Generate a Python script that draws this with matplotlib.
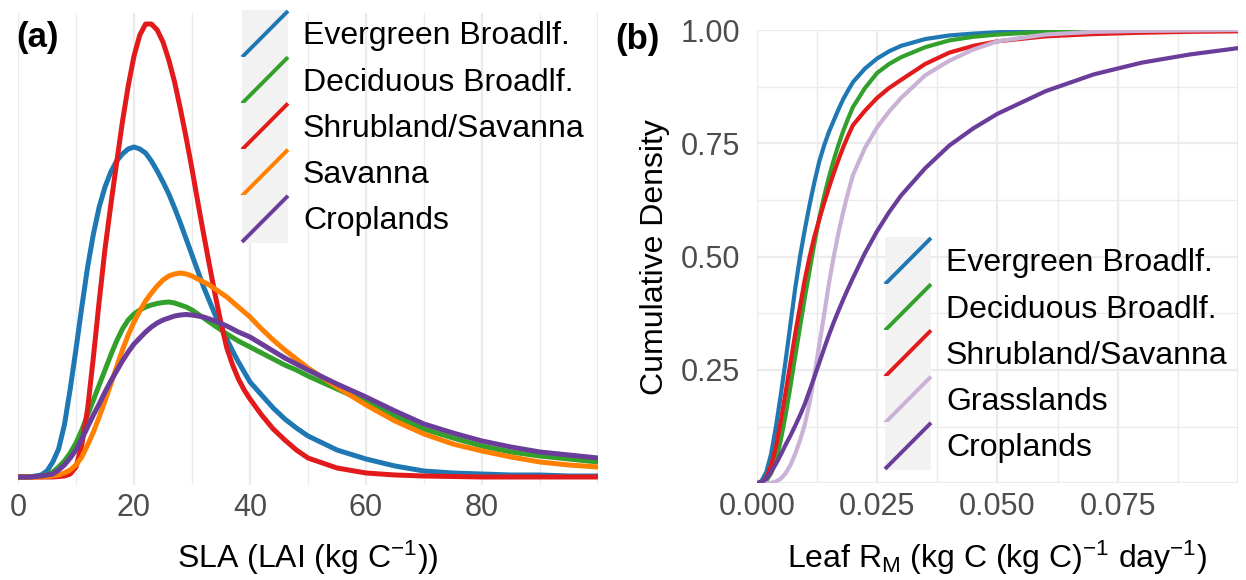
import matplotlib
matplotlib.use("Agg")
import matplotlib.pyplot as plt
from matplotlib.lines import Line2D
from matplotlib.patches import Rectangle
from matplotlib.legend_handler import HandlerBase
from matplotlib.ticker import MultipleLocator

plt.rcParams['font.family'] = ['Liberation Sans', 'DejaVu Sans']
plt.rcParams['mathtext.fontset'] = 'custom'
plt.rcParams['mathtext.rm'] = 'Liberation Sans'
plt.rcParams['mathtext.it'] = 'Liberation Sans:italic'

# ---- panel (a): SLA prior densities (relative height, no y scale shown)
sla_x = [0, 2, 4,
         5, 6, 7, 8, 9, 10, 11, 12, 13, 14, 15, 16, 17, 18, 19, 20, 21, 22,
         23, 24, 25, 26, 27, 28, 29, 30, 31, 32, 33, 34, 35, 36, 37, 38, 39, 40,
         42, 44, 46, 48, 50, 55, 60, 65, 70, 75, 80, 85, 90, 95, 100]
sla_evergreen = [0, 0, 2,
                 6, 15, 28, 52, 88, 128, 170, 210, 243, 270, 290, 305, 316, 323, 328, 330, 328, 324,
                 316, 306, 295, 283, 269, 254, 238, 222, 206, 190, 176, 162, 150, 138, 126, 115, 105, 95,
                 82, 69, 58, 49, 41, 27, 18, 11, 6, 4, 3, 2, 2, 1, 1]
sla_deciduous = [0, 0, 1,
                 2.5, 5, 10, 16, 24, 34, 47, 62, 77, 92, 107, 122, 136, 148, 157, 163, 167, 170,
                 172, 173.5, 174.5, 175, 174, 172, 170, 167, 163, 159, 155, 151, 147, 143, 139.5, 136, 133, 130,
                 124, 118, 112, 107, 101, 88, 75, 61, 48, 39, 31, 25, 21, 18, 15]
sla_shrub = [0, 0, 0,
             0, 0, 0.5, 1, 3, 10, 32, 68, 120, 176, 228, 272, 314, 355, 391, 421, 442, 453,
             453, 447, 435, 417, 395, 368, 339, 308, 275, 243, 212, 182, 154, 129, 112, 98, 87, 78,
             62, 48, 37, 27, 19, 9, 4, 2, 1, 0.5, 0, 0, 0, 0, 0]
sla_savanna = [0, 0, 0,
               0.5, 1, 2, 4, 7, 12, 20, 32, 45, 60, 76, 93, 110, 127, 142, 155, 166, 176,
               184, 191, 197, 201, 203, 204, 203, 201, 198, 195, 192, 188, 184, 180, 175, 170, 165, 160,
               148, 137, 127, 118, 109, 90, 72, 56, 43, 33, 26, 20, 15, 12, 10]
sla_crop = [0, 0, 1,
            2, 3, 7, 12, 19, 27, 38, 50, 62, 73, 85, 96, 106, 116, 125, 133, 139, 145,
            150, 154, 157, 159, 161, 162, 162.5, 162, 161, 160, 158, 156, 153.5, 151, 148, 145, 142.5, 140,
            133, 126, 119, 113, 107, 93, 80, 66, 53, 44, 36, 30, 25, 22, 19]

# ---- panel (b): leaf maintenance respiration CDFs
rm_x = [0, 0.001, 0.002, 0.003, 0.004, 0.005, 0.006, 0.007, 0.008, 0.009, 0.010,
        0.011, 0.012, 0.013, 0.014, 0.015, 0.016, 0.017, 0.018, 0.019, 0.020,
        0.0225, 0.025, 0.0275, 0.03, 0.035, 0.04, 0.045, 0.05, 0.06, 0.07, 0.08, 0.09, 0.1]
rm_evergreen = [0, 0.005, 0.025, 0.065, 0.125, 0.195, 0.27, 0.35, 0.43, 0.50, 0.56,
                0.615, 0.665, 0.71, 0.745, 0.775, 0.80, 0.825, 0.848, 0.867, 0.885,
                0.915, 0.937, 0.953, 0.965, 0.98, 0.988, 0.992, 0.995, 0.998, 0.999, 1.0, 1.0, 1.0]
rm_deciduous = [0, 0.001, 0.006, 0.022, 0.05, 0.095, 0.15, 0.213, 0.28, 0.345, 0.41,
                0.47, 0.53, 0.585, 0.633, 0.675, 0.713, 0.747, 0.778, 0.805, 0.83,
                0.872, 0.905, 0.925, 0.94, 0.962, 0.977, 0.985, 0.99, 0.996, 0.998, 0.999, 1.0, 1.0]
rm_shrub = [0, 0.002, 0.012, 0.04, 0.08, 0.137, 0.20, 0.265, 0.33, 0.39, 0.45,
            0.50, 0.545, 0.582, 0.618, 0.652, 0.684, 0.714, 0.742, 0.767, 0.79,
            0.822, 0.85, 0.872, 0.89, 0.925, 0.95, 0.965, 0.975, 0.986, 0.991, 0.994, 0.996, 0.997]
rm_grass = [0, 0, 0, 0.001, 0.004, 0.01, 0.022, 0.04, 0.065, 0.095, 0.13,
            0.178, 0.24, 0.305, 0.372, 0.44, 0.50, 0.553, 0.60, 0.642, 0.68,
            0.74, 0.785, 0.82, 0.85, 0.90, 0.932, 0.957, 0.975, 0.99, 0.996, 0.998, 0.999, 1.0]
rm_crop = [0, 0.002, 0.01, 0.025, 0.043, 0.063, 0.085, 0.105, 0.127, 0.15, 0.175,
           0.205, 0.235, 0.266, 0.297, 0.327, 0.355, 0.381, 0.406, 0.43, 0.453,
           0.508, 0.556, 0.598, 0.635, 0.695, 0.745, 0.783, 0.815, 0.865, 0.902, 0.928, 0.946, 0.96]

sla_labels = ['Evergreen Broadlf.', 'Deciduous Broadlf.', 'Shrubland/Savanna', 'Savanna', 'Croplands']
sla_colors = ['#1F78B4', '#33A02C', '#E31A1C', '#FF7F00', '#6A3D9A']
rm_labels = ['Evergreen Broadlf.', 'Deciduous Broadlf.', 'Shrubland/Savanna', 'Grasslands', 'Croplands']
rm_colors = ['#1F78B4', '#33A02C', '#E31A1C', '#CAB2D6', '#6A3D9A']

GRID = '#EBEBEB'
TICK = '#4D4D4D'
FS_TICK = 22
FS_TITLE = 23
FS_LEG = 23


class DiagHandler(HandlerBase):
    # ggplot-style legend key: grey square with a diagonal line
    def create_artists(self, legend, orig_handle, xdescent, ydescent,
                       width, height, fontsize, trans):
        bg = Rectangle((-xdescent, -ydescent - 0.5), width, height + 1,
                       facecolor='#F2F2F2', edgecolor='none', transform=trans)
        ln = Line2D([-xdescent, -xdescent + width], [-ydescent, -ydescent + height],
                    color=orig_handle.get_color(), lw=2.8, solid_capstyle='butt',
                    transform=trans)
        return [bg, ln]


W, H = 1246, 580
fig = plt.figure(figsize=(W / 100, H / 100), dpi=100)

def fx(px):
    return px / W

def fy(py):
    return 1 - py / H

leg_kw = dict(loc='upper left', frameon=False, fontsize=FS_LEG, borderpad=0,
              borderaxespad=0, handlelength=1.44, handleheight=1.848,
              labelspacing=0, handletextpad=0.47,
              handler_map={Line2D: DiagHandler()})

# ---------------- panel (a)
ax1 = fig.add_axes([fx(18), fy(485), (598 - 18) / W, (485 - 13) / H])
lines_a = []
for ys, c, lab in zip([sla_evergreen, sla_deciduous, sla_shrub, sla_savanna, sla_crop],
                      sla_colors, sla_labels):
    l, = ax1.plot(sla_x, ys, color=c, lw=3.6, label=lab, solid_capstyle='round')
    lines_a.append(l)
ax1.set_xlim(0, 100)
ax1.set_ylim(-8, 464)
ax1.set_xticks([0, 20, 40, 60, 80])
ax1.xaxis.set_minor_locator(MultipleLocator(10))
ax1.set_yticks([])
ax1.grid(axis='x', which='major', color=GRID, lw=1.6)
ax1.grid(axis='x', which='minor', color=GRID, lw=1.0)
ax1.axvline(100, color=GRID, lw=1.6, zorder=0)
ax1.set_axisbelow(True)
for s in ax1.spines.values():
    s.set_visible(False)
ax1.tick_params(axis='both', which='both', length=0, labelsize=FS_TICK, labelcolor=TICK, pad=6)
ax1.set_xlabel('SLA (LAI (kg C$^{-1}$))', fontsize=FS_TITLE, va='baseline')
ax1.xaxis.set_label_coords(0.5, -(568 - 485) / 472)

fig.legend(handles=lines_a, bbox_to_anchor=(fx(242), fy(11)), **leg_kw)

# ---------------- panel (b)
ax2 = fig.add_axes([fx(756.7), fy(483.3), (1238 - 756.7) / W, (483.3 - 30) / H])
lines_b = []
for ys, c, lab in zip([rm_evergreen, rm_deciduous, rm_shrub, rm_grass, rm_crop],
                      rm_colors, rm_labels):
    l, = ax2.plot(rm_x, ys, color=c, lw=3.0, label=lab, solid_capstyle='round')
    lines_b.append(l)
ax2.set_xlim(0, 0.1)
ax2.set_ylim(0, 1)
ax2.set_xticks([0, 0.025, 0.05, 0.075])
ax2.set_xticklabels(['0.000', '0.025', '0.050', '0.075'])
ax2.set_yticks([0.25, 0.5, 0.75, 1.0])
ax2.set_yticklabels(['0.25', '0.50', '0.75', '1.00'])
ax2.xaxis.set_minor_locator(MultipleLocator(0.0125))
ax2.yaxis.set_minor_locator(MultipleLocator(0.125))
ax2.grid(which='major', color=GRID, lw=1.6)
ax2.grid(which='minor', color=GRID, lw=1.0)
for v in [0, 0.1]:
    ax2.axvline(v, color=GRID, lw=1.6, zorder=0)
for v in [0, 1]:
    ax2.axhline(v, color=GRID, lw=1.6, zorder=0)
ax2.set_axisbelow(True)
for s in ax2.spines.values():
    s.set_visible(False)
ax2.tick_params(axis='x', which='both', length=0, labelsize=FS_TICK, labelcolor=TICK, pad=6)
ax2.tick_params(axis='y', which='both', length=0, labelsize=FS_TICK, labelcolor=TICK, pad=12)
ax2.set_xlabel('Leaf R$_\\mathrm{M}$ (kg C (kg C)$^{-1}$ day$^{-1}$)', fontsize=FS_TITLE, va='baseline')
ax2.xaxis.set_label_coords(0.5, -(568 - 483.3) / 453.3)
ax2.set_ylabel('Cumulative Density', fontsize=FS_TITLE, va='center')
ax2.yaxis.set_label_coords(-(756.7 - 655) / 481.3, 0.5)

fig.legend(handles=lines_b, bbox_to_anchor=(fx(885), fy(238)), **leg_kw)

fig.text(fx(16), fy(38), '(a)', fontsize=25, fontweight='bold', va='center', ha='left')
fig.text(fx(615), fy(39), '(b)', fontsize=25, fontweight='bold', va='center', ha='left')

fig.savefig('out.png', dpi=100, facecolor='white')
